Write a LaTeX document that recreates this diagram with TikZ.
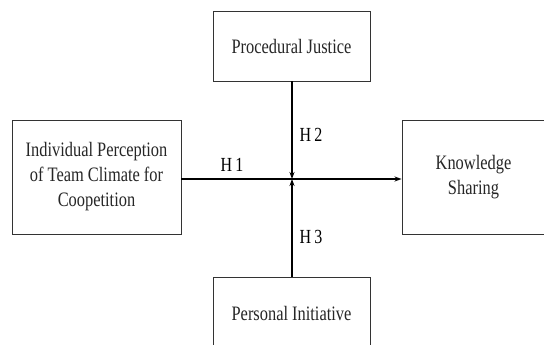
\documentclass[tikz,border=0pt]{standalone}
\usepackage{fontspec}
\setmainfont{Liberation Serif}[FakeStretch=0.8]
\usetikzlibrary{arrows.meta}
\begin{document}
\begin{tikzpicture}[x=1pt,y=-1pt,
  box/.style={draw=black!80,line width=0.9pt,fill=white,inner sep=0pt,align=center,text=black!85,font=\fontsize{20.5}{25}\selectfont},
  lab/.style={font=\fontsize{20}{22}\selectfont,inner sep=0pt},
  conn/.style={line width=1.6pt,-{Stealth[length=7pt,width=5pt]}}]
\useasboundingbox (0,0) rectangle (544,345);
\node[box,minimum width=169pt,minimum height=114pt] (ind) at (96.5,177) {Individual Perception\\of Team Climate for\\Coopetition};
\node[box,minimum width=157pt,minimum height=70pt] (pj) at (291.5,46) {Procedural Justice};
\node[box,minimum width=157pt,minimum height=72pt] (pi) at (291.5,313) {Personal Initiative};
\node[box,minimum width=143pt,minimum height=114pt] (ks) at (473.5,177) {Knowledge\\Sharing};
\coordinate (m) at (292,179);
\draw[conn,line width=2pt] (ind.east |- m) -- (ks.west |- m);
\draw[conn,line width=1.3pt] (pj.south -| m) -- (m);
\draw[conn,line width=1.3pt] (pi.north -| m) -- (m);
\node[lab] (h1) at (232,165) {H\,1};
\node[lab] (h2) at (311,135) {H\,2};
\node[lab] (h3) at (311,237) {H\,3};
\end{tikzpicture}
\end{document}
